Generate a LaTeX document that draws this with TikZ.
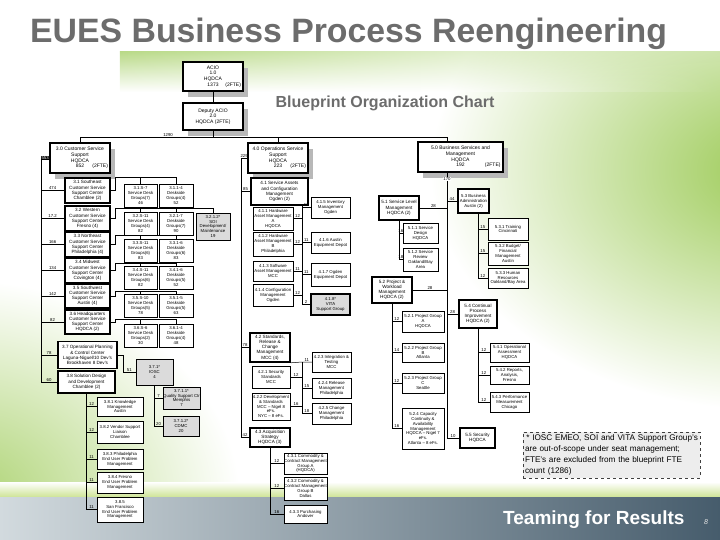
\documentclass[tikz,border=0pt]{standalone}
\usepackage{fontspec}
\setmainfont{Liberation Sans}
\usepackage{tikz}
\usetikzlibrary{shadows,fadings}
\definecolor{eutitle}{RGB}{108,108,108}
\definecolor{eugreen}{RGB}{156,202,86}
\definecolor{eustrip}{RGB}{206,228,150}
\definecolor{barlight}{RGB}{210,218,222}
\definecolor{bardark}{RGB}{70,92,108}
\newcommand{\unitfont}{\fontsize{4.3}{4.9}\selectfont}
\newcommand{\mgrfont}{\fontsize{4.6}{5.2}\selectfont}
\newcommand{\chieffont}{\fontsize{5}{5.6}\selectfont}
\newcommand{\fteline}[2]{\makebox[#2pt]{\hfill#1\hfill\llap{(2FTE)}}}
\tikzset{
  wh/.style 2 args = {minimum width=#1pt, minimum height=#2pt},
  org/.style    = {draw=black, line width=0.5pt, fill=white, align=center, inner sep=0.3pt, font=\unitfont},
  mgr/.style    = {org, line width=1.6pt, font=\mgrfont},
  chief/.style  = {mgr, font=\chieffont, drop shadow={shadow xshift=5pt, shadow yshift=-6pt, fill=black!28, opacity=1}},
  oos/.style    = {org, fill=black!14},
  num/.style    = {font=\unitfont, inner sep=0.4pt},
  numinv/.style = {num, fill=black, text=white},
  link/.style   = {line width=0.5pt},
  fnote/.style  = {draw=black!75, dashed, fill=black!7, align=left, inner sep=2pt,
                   font=\fontsize{8.2}{11}\selectfont, text width=173pt, minimum height=46pt}
}

\begin{document}
\begin{tikzpicture}[x=1pt,y=-1pt]
  \useasboundingbox (0,0) rectangle (720,540);
  % slide background
  \begin{scope}
    \clip (0,52) rectangle (720,497);
    \shade[inner color=eugreen, outer color=white] (770,170) ellipse (340 and 240);
    \shade[inner color=eugreen!85, outer color=white] (-40,500) ellipse (280 and 220);
  \end{scope}
  \shade[top color=eugreen!70, bottom color=white, path fading=east] (120,52) rectangle (720,92);
  \shade[top color=white, bottom color=eustrip] (0,482) rectangle (720,497);
  \shade[left color=barlight, right color=bardark] (0,497) rectangle (720,540);

  \node[anchor=base west, inner sep=0, text=eutitle, font=\fontsize{33.8}{40}\selectfont\bfseries] (title) at (30,43) {EUES Business Process Reengineering};
  \node[anchor=base, inner sep=0, text=eutitle, font=\fontsize{16}{18}\selectfont\bfseries] (subtitle) at (385,108) {Blueprint Organization Chart};
  \node[anchor=base west, inner sep=0, text=white, font=\fontsize{19}{22}\selectfont\bfseries] (motto) at (503,524) {Teaming for Results};
  \node[text=white!90!black, font=\fontsize{7}{8}\selectfont\itshape] (page) at (706,522) {8};

  % top of the chart
  \node[chief, wh={60}{29}] (acio) at (213,76.5) {ACIO\\1.0\\HQDCA\\\fteline{1373}{56}};
  \node[chief, wh={60}{27}] (dacio) at (213,116.5) {Deputy ACIO\\2.0\\HQDCA (2FTE)};

  % 3.0 customer service support
  \node[chief, wh={60}{30}] (cs) at (80,158) {3.0 Customer Service\\Support\\HQDCA\\\fteline{852}{56}};
  \node[mgr, wh={45}{25}] (cs1) at (87.5,190.5) {3.1 Southeast\\Customer Service\\Support Center\\Chamblee (2)};
  \node[mgr, wh={45}{25}] (cs2) at (87.5,218.5) {3.2 Western\\Customer Service\\Support Center\\Fresno (4)};
  \node[mgr, wh={45}{25}] (cs3) at (87.5,244.5) {3.3 Northeast\\Customer Service\\Support Center\\Philadelphia (4)};
  \node[mgr, wh={45}{25}] (cs4) at (87.5,270.5) {3.4 Midwest\\Customer Service\\Support Center\\Covington (4)};
  \node[mgr, wh={45}{24}] (cs5) at (87.5,296) {3.5 Southwest\\Customer Service\\Support Center\\Austin (4)};
  \node[mgr, wh={45}{24}] (cs6) at (87.5,322) {3.6 Headquarters\\Customer Service\\Support Center\\HQDCA (2)};
  \node[mgr, wh={59}{27}] (cs7) at (87.5,355) {3.7 Operational Planning\\\& Control Center\\Laguna-Niguel/10 Dev's\\Brookhaven 8 Dev's};
  \node[mgr, wh={57}{22}] (cs8) at (86.5,382) {3.8 Solution Design\\and Development\\Chamblee (2)};

  \foreach \i/\y/\by/\sa/\sg/\sn/\da/\dg/\dn in {
      1/195.5/177/S-7/7/46/1-4/4/52,
      2/223.5/208/S-11/4/82/1-7/7/90,
      3/250.5/235/S-11/6/83/1-6/6/83,
      4/277.5/263/S-11/6/82/1-6/5/52,
      5/305.5/291/S-10/5/78/1-5/5/63,
      6/335.5/319/S-6/2/30/1-4/4/48}{
    \node[org, wh={33}{23}] (sd\i) at (140.5,\y) {3.\i.\sa\\Service Desk\\Groups(\sg)\\\sn};
    \node[org, wh={34}{23}] (ds\i) at (176,\y) {3.\i.\da\\Deskside\\Groups(\dg)\\\dn};
    \draw[link] (cs\i.east) -| (115,\by) -| (ds\i.north);
    \draw[link] (sd\i.north) -- (sd\i.north |- 115,\by);
  }
  \node[oos, wh={34}{27}] (soi) at (213,226.5) {3.2.1.2*\\SOI\\Development/\\Maintenance\\19};
  \draw[link] (ds2.north |- 115,208) -| (soi.north);

  \node[oos, wh={37}{26}] (iosc) at (154.5,372) {3.7.1*\\IOSC\\4};
  \node[oos, wh={37}{22}] (qsc) at (181.5,398) {3.7.1.1*\\Quality Support Ctr\\Memphis\\7};
  \node[oos, wh={36}{20}] (cdmc) at (181,426) {3.7.1.2*\\CDMC\\20};

  \node[org, wh={46}{19}] (ue1) at (120,406.5) {3.8.1 Knowledge\\Management\\Austin};
  \node[org, wh={46}{22}] (ue2) at (120,432) {3.8.2 Vendor Support\\Liaison\\Chamblee};
  \node[org, wh={46}{20}] (ue3) at (120,459) {3.8.3 Philadelphia\\End User Problem\\Management};
  \node[org, wh={46}{21}] (ue4) at (120,482.5) {3.8.4 Fresno\\End User Problem\\Management};
  \node[org, wh={46}{25}] (ue5) at (120,509.5) {3.8.5\\San Francisco\\End User Problem\\Management};

  % 4.0 operations service support
  \node[chief, wh={60}{30}] (ops) at (278,158) {4.0 Operations Service\\Support\\HQDCA\\\fteline{223}{56}};
  \node[mgr, wh={57}{27}] (ops1) at (279.5,191.5) {4.1 Service Assets\\and Configuration\\Management\\Ogden (2)};
  \node[org, wh={40}{23}] (hw1) at (273,218.5) {4.1.1 Hardware\\Asset Management\\A\\HQDCA};
  \node[org, wh={40}{24}] (hw2) at (273,244) {4.1.2 Hardware\\Asset Management\\B\\Philadelphia};
  \node[org, wh={40}{20}] (sw) at (273,271) {4.1.3 Software\\Asset Management\\MCC};
  \node[org, wh={40}{22}] (cfg) at (273,295) {4.1.4 Configuration\\Management\\Ogden};
  \node[org, wh={39}{21}] (inv) at (330.5,207.5) {4.1.5 Inventory\\Management\\Ogden};
  \node[org, wh={39}{21}] (aus) at (330.5,242.5) {4.1.6 Austin\\Equipment Depot};
  \node[org, wh={39}{23}] (ogd) at (330.5,274.5) {4.1.7 Ogden\\Equipment Depot};
  \node[oos, line width=1.6pt, wh={39}{21}] (vita) at (330.5,304.5) {4.1.8*\\VITA\\Support Group};

  \node[mgr, wh={40}{29}] (ops2) at (270,347.5) {4.2 Standards,\\Release \&\\Change\\Management\\MCC (4)};
  \node[org, wh={38}{22}] (sec) at (271,377) {4.2.1 Security\\Standards\\MCC};
  \node[org, wh={38}{27}] (dev) at (271,406.5) {4.2.2 Development\\\& Standards\\MCC – Nigel 8\\eFs.\\NYC – 8 eFs.};
  \node[org, wh={39}{20}] (intg) at (331.5,362) {4.2.3 Integration \&\\Testing\\MCC};
  \node[org, wh={39}{20}] (rel) at (331.5,388) {4.2.4 Release\\Management\\Philadelphia};
  \node[org, wh={39}{21}] (chg) at (331.5,413.5) {4.2.5 Change\\Management\\Philadelphia};

  \node[mgr, wh={40}{19}] (ops3) at (270,437.5) {4.3 Acquisition\\Strategy\\HQDCA (3)};
  \node[org, wh={43}{21}] (com1) at (305.5,463.5) {4.3.1 Commodity \&\\Contract Management\\Group A\\(HQDCA)};
  \node[org, wh={43}{23}] (com2) at (305.5,488.5) {4.3.2 Commodity \&\\Contract Management\\Group B\\Dallas};
  \node[org, wh={43}{18}] (pur) at (305.5,514) {4.3.3 Purchasing\\Andover};

  % 5.0 business services and management
  \node[chief, wh={85}{30}] (bsm) at (460.5,157) {5.0 Business Services and\\Management\\HQDCA\\\fteline{192}{80}};
  \node[mgr, wh={40}{24}] (slm) at (399,208) {5.1 Service Level\\Management\\HQDCA (2)};
  \node[org, wh={35}{20}] (sdes) at (420.5,233) {5.1.1 Service\\Design\\HQDCA};
  \node[org, wh={35}{23}] (srev) at (420.5,259.5) {5.1.2 Service\\Review\\Oakland/Bay\\Area};
  \node[mgr, wh={40}{26}] (pwm) at (392,290) {5.2 Project \&\\Workload\\Management\\HQDCA (2)};
  \node[org, wh={42}{21}] (pga) at (423,321.5) {5.2.1 Project Group\\A\\HQDCA};
  \node[org, wh={42}{19}] (pgb) at (423,352.5) {5.2.2 Project Group\\B\\Atlanta};
  \node[org, wh={42}{20}] (pgc) at (423,383) {5.2.3 Project Group\\C\\Seattle};
  \node[org, wh={42}{41}] (cap) at (423,428.5) {5.2.4 Capacity\\Continuity \&\\Availability\\Management\\HQDCA – Nigel 7\\eFs.\\Atlanta – 8 eFs.};
  \node[mgr, font=\unitfont, wh={31}{24}] (bad) at (473.5,201) {5.3 Business\\Administration\\Austin (2)};
  \node[org, wh={40}{22}] (trn) at (508,229) {5.3.1 Training\\Cincinnati};
  \node[org, wh={40}{23}] (bud) at (508,253.5) {5.3.2 Budget/\\Financial\\Management\\Austin};
  \node[org, wh={40}{20}] (hr) at (508,278) {5.3.3 Human\\Resources\\Oakland/Bay Area};
  \node[mgr, wh={38}{28}] (cpi) at (478,314) {5.4 Continual\\Process\\Improvement\\HQDCA (2)};
  \node[org, wh={39}{19}] (opa) at (509.5,352.5) {5.4.1 Operational\\Assessment\\HQDCA};
  \node[org, wh={39}{18}] (rpt) at (509.5,375) {5.4.2 Reports,\\Analysis,\\Fresno};
  \node[org, wh={39}{20}] (pfm) at (509.5,402) {5.4.3 Performance\\Measurement\\Chicago};
  \node[mgr, wh={35}{20}] (secu) at (477.5,438) {5.5 Security\\HQDCA};

  \node[fnote] (note) at (611.5,455) {\,* IOSC EMEO, SOI and VITA Support Group's\\are out-of-scope under seat management;\\FTE's are excluded from the blueprint FTE\\count (1286)};

  % connectors
  \coordinate (busr) at (447,137);
  \draw[link] (acio.south) -- (dacio.north);
  \draw[link] (cs.north) |- node[num,above,pos=0.62]{1290} (busr) -- (bsm.north -| busr);
  \draw[link] (dacio.south) -- (dacio.south |- busr);
  \draw[link] (ops.north) -- (ops.north |- busr);

  \coordinate (csl) at (41,158);
  \draw[link] (cs.west) -- node[numinv]{553} (csl) |- (cs8.west);
  \foreach \n/\v in {cs1/474,cs2/17.2,cs3/166,cs4/134,cs5/142,cs6/82,cs7/78,cs8/60}
    \draw[link] (csl |- \n.west) -- node[num,above]{\v} (\n.west);
  \draw[link] (cs7.east) -| (123,372) -- node[num,above]{51} (iosc.west);
  \draw[link] (iosc.south) |- (cdmc.west);
  \foreach \n/\v in {qsc/7,cdmc/20}
    \draw[link] (iosc.south |- \n.west) -- node[num,above]{\v} (\n.west);
  \draw[link] (cs8.south) |- (ue5.west);
  \foreach \n/\v in {ue1/12,ue2/12,ue3/11,ue4/11,ue5/11}
    \draw[link] (cs8.south |- \n.west) -- node[num,above]{\v} (\n.west);

  \coordinate (ol) at (241,158);
  \draw[link] (ops.west) -- node[num,above]{229} (ol) |- (ops3.west);
  \foreach \n/\v in {ops1/85,ops2/78,ops3/42}
    \draw[link] (ol |- \n.west) -- node[num,above]{\v} (\n.west);
  \coordinate (v41) at (302,205);
  \draw[link] (v41) -- (v41 |- vita.west);
  \foreach \n/\v in {hw1/12,hw2/12,sw/11,cfg/12}
    \draw[link] (\n.east) -- node[num,above]{\v} (\n.east -| v41);
  \foreach \n/\v in {inv/12,aus/11,ogd/11,vita/2}
    \draw[link] (v41 |- \n.west) -- node[num,above]{\v} (\n.west);
  \coordinate (v42) at (302,362);
  \draw[link] (ops2.south east) -- (v42) -- node[num,above]{11} (intg.west);
  \draw[link] (v42) -- (v42 |- chg.west);
  \foreach \n/\v in {sec/12,dev/16}
    \draw[link] (\n.east) -- node[num,above]{\v} (\n.east -| v42);
  \foreach \n/\v in {rel/15,chg/18}
    \draw[link] (v42 |- \n.west) -- node[num,above]{\v} (\n.west);
  \draw[link] (ops3.south) |- (pur.west);
  \foreach \n/\v in {com1/12,com2/12,pur/16}
    \draw[link] (ops3.south |- \n.west) -- node[num,above]{\v} (\n.west);

  \coordinate (bv) at (447,172);
  \draw[link] (bv) -- node[num,fill=white,pos=0.025]{170} (bv |- secu.west);
  \foreach \n/\v in {slm/28,pwm/28}
    \draw[link] (\n.east) -- node[num,above]{\v} (\n.east -| bv);
  \foreach \n/\v in {bad/44,cpi/28,secu/10}
    \draw[link] (bv |- \n.west) -- node[num,above]{\v} (\n.west);
  \draw[link] (slm.south) |- (srev.west);
  \foreach \n/\v in {sdes/16,srev/18}
    \draw[link] (slm.south |- \n.west) -- node[num,above]{\v} (\n.west);
  \draw[link] (pwm.south) |- (cap.west);
  \foreach \n/\v in {pga/12,pgb/14,pgc/12,cap/16}
    \draw[link] (pwm.south |- \n.west) -- node[num,above]{\v} (\n.west);
  \coordinate (v53) at (478,213);
  \draw[link] (v53) |- (hr.west);
  \foreach \n/\v in {trn/15,bud/15,hr/12}
    \draw[link] (v53 |- \n.west) -- node[num,above]{\v} (\n.west);
  \draw[link] (cpi.south) |- (pfm.west);
  \foreach \n/\v in {opa/12,rpt/12,pfm/12}
    \draw[link] (cpi.south |- \n.west) -- node[num,above]{\v} (\n.west);
\end{tikzpicture}
\end{document}
